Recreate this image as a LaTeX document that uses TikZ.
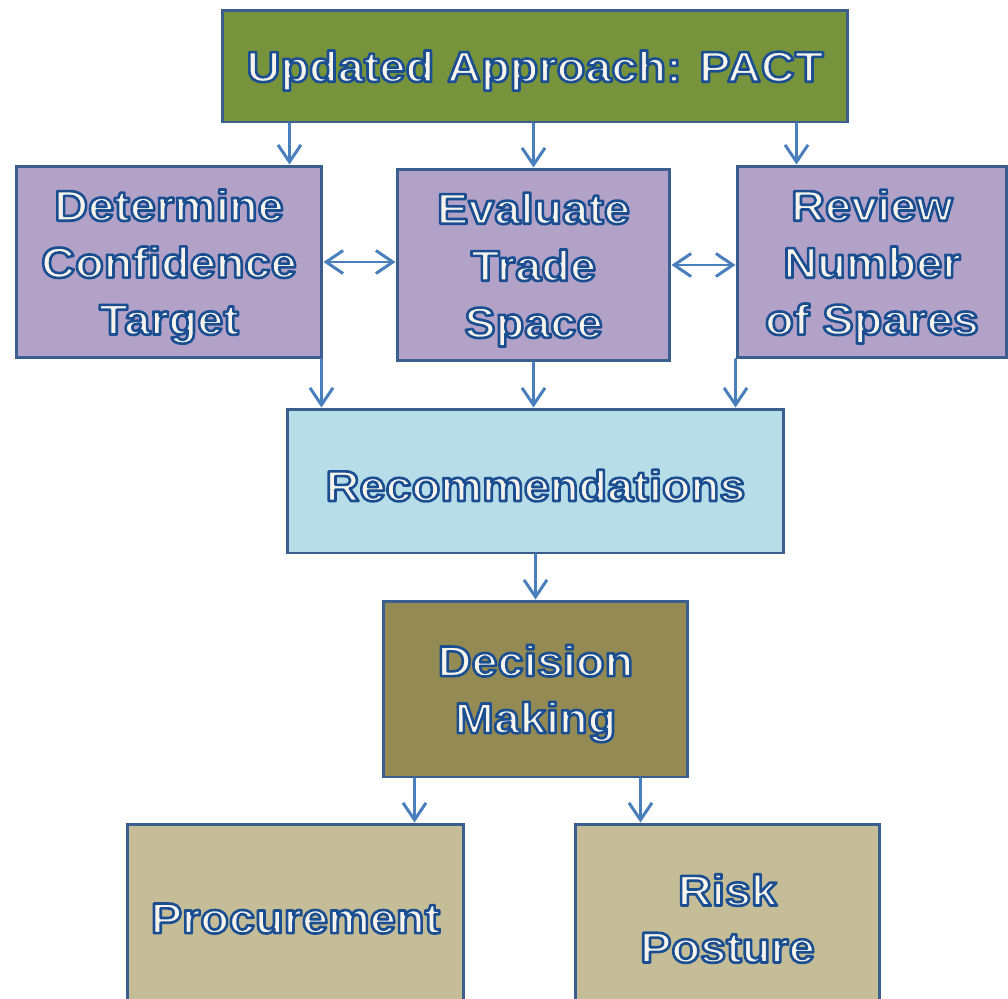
\documentclass[tikz,border=0pt]{standalone}
\usepackage{fontspec}
\setmainfont[FakeStretch=1.09]{Liberation Sans}
\usetikzlibrary{arrows.meta}

\definecolor{boxline}{HTML}{3A5F8F}
\definecolor{arrowblue}{HTML}{4A7FBE}
\definecolor{txtfill}{HTML}{F6F4EC}
\definecolor{greenbox}{HTML}{77933C}
\definecolor{purplebox}{HTML}{B2A2C8}
\definecolor{bluebox}{HTML}{B7DEE8}
\definecolor{olivebox}{HTML}{948A54}
\definecolor{tanbox}{HTML}{C4BD97}

\newcommand{\ot}[1]{%
	\raisebox{-2.6pt}[\height][\depth]{\color{txtfill}%
		\special{pdf:literal direct 0.106 0.306 0.569 RG 2 Tr 1.5 w 1 j}#1%
		\special{pdf:literal direct 0 Tr 0.4 w 0 j}}%
}

\tikzset{
	box/.style={draw=boxline, line width=1.7pt, rectangle, align=center, inner sep=0pt,
		font=\fontsize{24.5}{32.4}\selectfont\bfseries},
	arr/.style={draw=arrowblue, line width=1.7pt, line cap=round,
		-{Straight Barb[length=0.34cm, width=0.46cm, line width=1.7pt]}},
	darr/.style={arr, {Straight Barb[length=0.34cm, width=0.46cm, line width=1.7pt]}-{Straight Barb[length=0.34cm, width=0.46cm, line width=1.7pt]}}
}

\begin{document}
\begin{tikzpicture}[x=0.02cm, y=-0.02cm]
				\useasboundingbox (0,0) rectangle (1008,998);
				\node[box, fill=greenbox, minimum width=12.52cm, minimum height=2.24cm] (top)at(535, 66) {\ot{Updated Approach: PACT}};
				\node[box, fill=purplebox, minimum width=6.12cm, minimum height=3.84cm] (det)at(169, 262) {\ot{Determine}\\\ot{Confidence}\\\ot{Target}};
				\node[box, fill=purplebox, minimum width=5.46cm, minimum height=3.84cm] (eval)at(533.5, 265) {\ot{Evaluate}\\\ot{Trade}\\\ot{Space}};
				\node[box, fill=purplebox, minimum width=5.40cm, minimum height=3.84cm] (rev)at(872, 262) {\ot{Review}\\\ot{Number}\\\ot{of Spares}};
				\node[box, fill=bluebox, minimum width=9.94cm, minimum height=2.88cm] (rec)at(535.5, 481) {\ot{Recommendations}};
				\node[box, fill=olivebox, minimum width=6.10cm, minimum height=3.52cm] (dec)at(535.5, 689) {\ot{Decision}\\\ot{Making}};
				\node[box, fill=tanbox, minimum width=6.74cm, minimum height=3.60cm] (proc)at(295.5, 914) {\ot{Procurement}};
				\node[box, fill=tanbox, minimum width=6.10cm, minimum height=3.60cm] (risk)at(727.5, 914) {\ot{Risk}\\\ot{Posture}};
				\draw[arr] ([xshift=-0.68cm]det.north east |- top.south) -- ([xshift=-0.68cm]det.north east);
				\draw[arr] (eval.north |- top.south) -- (eval.north);
				\draw[arr] ([xshift=1.22cm]rev.north west |- top.south) -- ([xshift=1.22cm]rev.north west);
				\draw[darr] (det.east) -- (det.east -| eval.west);
				\draw[darr] (eval.east) -- (eval.east -| rev.west);
				\draw[arr] ([xshift=-0.04cm]det.south east) -- ([xshift=-0.04cm]det.south east |- rec.north);
				\draw[arr] (eval.south) -- (eval.south |- rec.north);
				\draw[arr] (rev.south west) -- (rev.south west |- rec.north);
				\draw[arr] (rec.south) -- (dec.north);
				\draw[arr] ([xshift=0.66cm]dec.south west) -- ([xshift=0.66cm]dec.south west |- proc.north);
				\draw[arr] ([xshift=-0.98cm]dec.south east) -- ([xshift=-0.98cm]dec.south east |- risk.north);
			\end{tikzpicture}
\end{document}
